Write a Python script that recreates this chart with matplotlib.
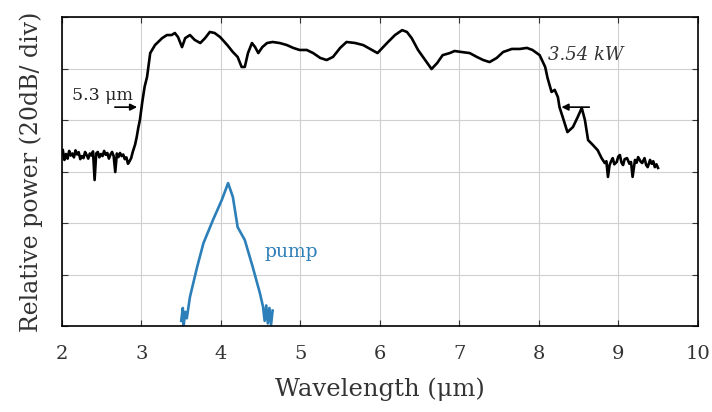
import matplotlib.pyplot as plt
import numpy as np

# Supercontinuum output spectrum (black), dB on a 20 dB/div scale
wl_sc = [2.01, 2.03, 2.05, 2.07, 2.09, 2.11, 2.13, 2.15, 2.17, 2.19, 2.21, 2.23,
         2.25, 2.27, 2.29, 2.31, 2.33, 2.35, 2.37, 2.39, 2.41, 2.43, 2.45, 2.47,
         2.49, 2.51, 2.53, 2.55, 2.57, 2.59, 2.61, 2.63, 2.65, 2.67, 2.69, 2.71,
         2.73, 2.75, 2.77, 2.79, 2.81, 2.83, 2.85, 2.87, 2.89, 2.92, 2.94, 2.96,
         2.98, 3.01, 3.04, 3.07, 3.11, 3.17, 3.26, 3.32, 3.38, 3.42, 3.46, 3.51,
         3.55, 3.61, 3.67, 3.74, 3.80, 3.86, 3.92, 3.99, 4.08, 4.15, 4.21, 4.26,
         4.30, 4.34, 4.39, 4.43, 4.47, 4.52, 4.58, 4.65, 4.74, 4.83, 4.91, 4.99,
         5.08, 5.16, 5.25, 5.33, 5.41, 5.50, 5.58, 5.69, 5.79, 5.90, 5.97, 6.09,
         6.19, 6.28, 6.34, 6.40, 6.48, 6.57, 6.65, 6.72, 6.79, 6.88, 6.94, 7.03,
         7.13, 7.22, 7.30, 7.38, 7.47, 7.55, 7.66, 7.76, 7.85, 7.92, 8.01, 8.08,
         8.11, 8.16, 8.20, 8.24, 8.26, 8.30, 8.36, 8.43, 8.49, 8.54, 8.58, 8.62,
         8.68, 8.74, 8.79, 8.83, 8.85, 8.87, 8.89, 8.91, 8.93, 8.95, 8.98, 9.00,
         9.02, 9.04, 9.06, 9.08, 9.11, 9.14, 9.16, 9.18, 9.21, 9.23, 9.25, 9.28,
         9.30, 9.33, 9.35, 9.37, 9.40, 9.42, 9.44, 9.46, 9.48, 9.50]
db_sc = [68.3, 64.5, 66.8, 65.0, 68.0, 66.2, 67.0, 65.5, 68.2, 66.6, 67.5, 64.8,
         66.0, 65.2, 67.6, 66.4, 65.0, 67.0, 66.2, 67.8, 56.7, 67.0, 67.6, 65.5,
         66.8, 66.0, 68.0, 66.5, 67.2, 65.0, 66.6, 67.6, 66.0, 59.8, 67.0, 65.6,
         67.2, 66.0, 66.6, 64.8, 65.5, 63.0, 64.0, 65.2, 67.6, 70.5, 73.4, 77.0,
         80.0, 87.0, 93.0, 96.7, 106.0, 109.1, 111.8, 113.0, 113.0, 113.8, 112.2, 108.3,
         111.8, 113.0, 111.1, 109.9, 111.8, 114.2, 113.8, 112.2, 109.1, 106.4, 104.5, 100.6,
         100.6, 106.0, 109.9, 108.3, 106.0, 108.3, 109.9, 110.3, 109.9, 109.1, 108.0, 107.2,
         107.2, 106.0, 104.1, 103.3, 104.5, 108.0, 110.3, 109.9, 109.1, 107.2, 106.0, 109.9,
         113.0, 114.9, 114.2, 111.8, 107.2, 103.3, 99.8, 102.1, 105.2, 106.0, 106.8, 106.4,
         106.0, 104.5, 103.3, 102.5, 104.1, 106.4, 107.6, 107.6, 108.0, 107.2, 105.2, 100.6,
         96.3, 90.9, 91.7, 88.9, 85.0, 81.2, 75.3, 77.3, 81.2, 84.7, 80.0, 72.2,
         70.3, 68.3, 65.2, 63.3, 64.0, 57.9, 62.5, 64.0, 65.2, 62.8, 63.7, 65.8,
         66.4, 63.5, 62.5, 64.8, 65.2, 63.0, 63.7, 57.9, 64.5, 63.4, 65.6, 63.9,
         63.3, 65.2, 62.6, 61.7, 64.5, 63.0, 64.0, 61.7, 62.8, 61.4]

# Pump spectrum (blue)
wl_pump = [3.50, 3.52, 3.53, 3.55, 3.57, 3.61, 3.70, 3.78, 3.90, 4.01, 4.09,
           4.15, 4.21, 4.30, 4.40, 4.49, 4.53, 4.55, 4.57, 4.59, 4.61, 4.63, 4.65]
db_pump = [2.0, 7.0, 0.0, 5.5, 3.0, 11.3, 22.9, 32.2, 41.2, 48.9, 55.5,
           50.1, 38.4, 33.4, 22.9, 12.8, 7.4, 2.0, 8.0, 1.0, 7.0, 0.5, 6.0]

x_ticks = [2, 3, 4, 5, 6, 7, 8, 9, 10]
y_ticks = [0, 20, 40, 60, 80, 100, 120]

plt.rcParams['font.family'] = 'DejaVu Serif'

fig = plt.figure(figsize=(7.12, 4.12), dpi=100)
ax = fig.add_axes([0.0871, 0.2087, 0.8929, 0.75])

ax.plot(wl_sc, db_sc, color='black', linewidth=1.9)
ax.plot(wl_pump, db_pump, color='#2c7fb8', linewidth=1.9)

ax.set_xlim(2, 10)
ax.set_ylim(0, 120)
ax.set_xticks(x_ticks)
ax.set_yticks(y_ticks)
ax.set_yticklabels([])
ax.grid(True, color='#d0d0d0', linewidth=0.8)
ax.tick_params(direction='in', top=True, right=True, length=4, labelsize=14,
               colors='#333333', pad=14)
for s in ax.spines.values():
    s.set_linewidth(1.2)

ax.set_xlabel('Wavelength (μm)', fontsize=17.5, color='#333333', labelpad=10)
ax.set_ylabel('Relative power (20dB/ div)', fontsize=17, color='#333333', labelpad=0)

# annotations
ax.text(2.13, 89.7, '5.3 μm', fontsize=12.5, va='center', ha='left', color='#222222')
ax.annotate('', xy=(2.98, 85.0), xytext=(2.63, 85.0),
            arrowprops=dict(arrowstyle='-|>', color='black', lw=1.2, mutation_scale=10))
ax.text(8.11, 105.2, '3.54 kW', fontsize=13, style='italic', va='center', ha='left',
        color='#333333')
ax.annotate('', xy=(8.25, 85.0), xytext=(8.67, 85.0),
            arrowprops=dict(arrowstyle='-|>', color='black', lw=1.2, mutation_scale=10))
ax.text(4.55, 28.7, 'pump', fontsize=13.5, va='center', ha='left', color='#2c7fb8')

fig.savefig('out.png', dpi=100)
